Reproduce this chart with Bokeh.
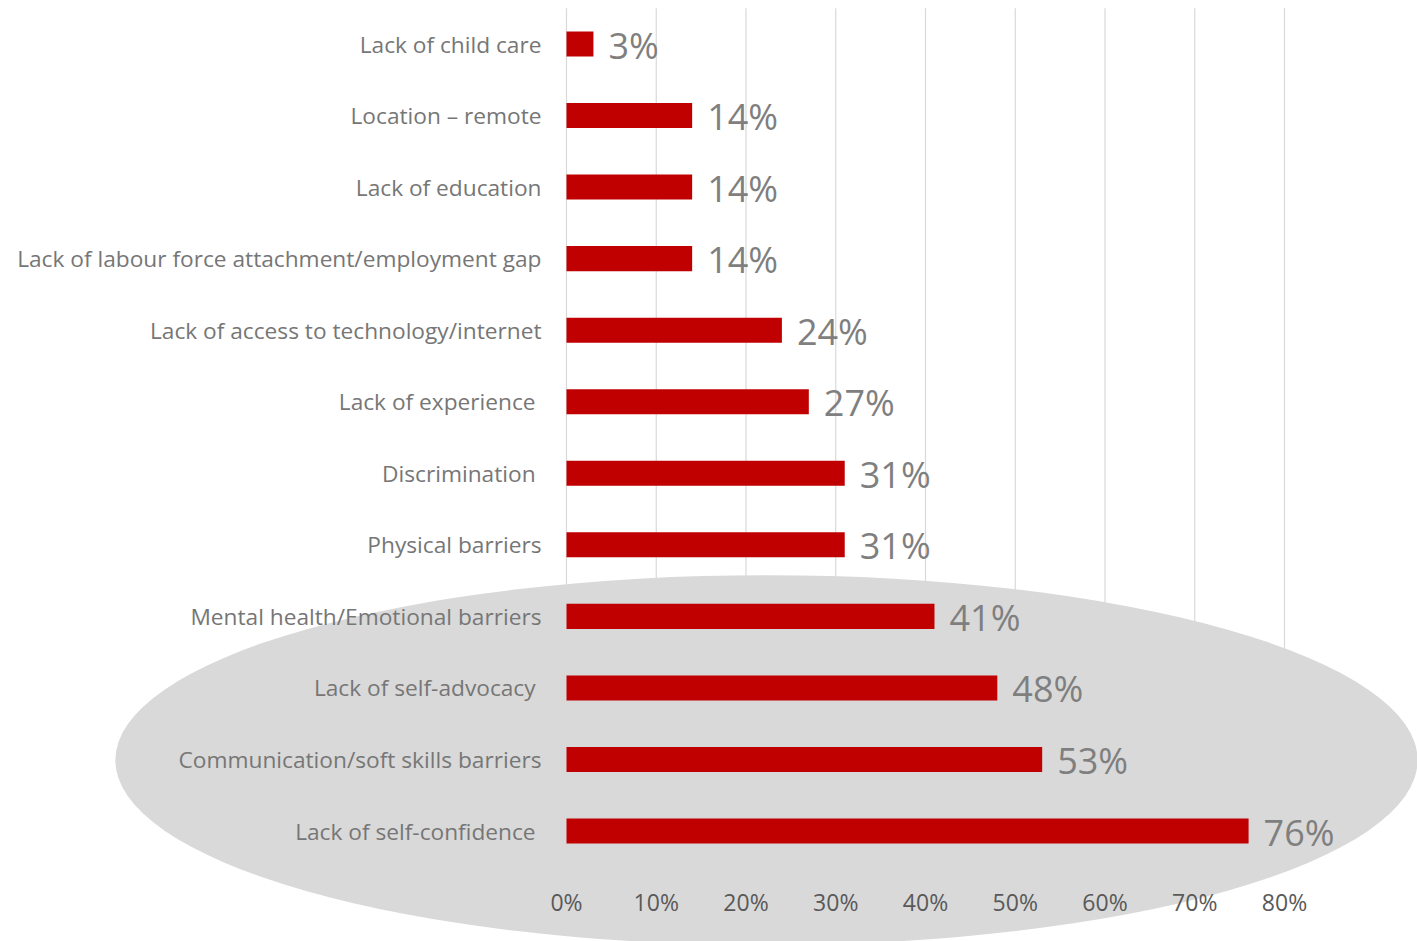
from bokeh.plotting import figure
from bokeh.models import FixedTicker, Range1d, ColumnDataSource
from bokeh.core.properties import value
from bokeh.embed import file_html
from bokeh.resources import INLINE

# ---- data (top to bottom as shown) ----
categories = [
    "Lack of child care",
    "Location \u2013 remote",
    "Lack of education",
    "Lack of labour force attachment/employment gap",
    "Lack of access to technology/internet",
    "Lack of experience\u00a0",
    "Discrimination\u00a0",
    "Physical barriers",
    "Mental health/Emotional barriers",
    "Lack of self-advocacy\u00a0",
    "Communication/soft skills barriers",
    "Lack of self-confidence\u00a0",
]
values = [3, 14, 14, 14, 24, 27, 31, 31, 41, 48, 53, 76]
x_ticks = [0, 10, 20, 30, 40, 50, 60, 70, 80]
x_tick_labels = ["0%", "10%", "20%", "30%", "40%", "50%", "60%", "70%", "80%"]

W, H = 1417, 941
FONT = "Open Sans"

n = len(categories)
pos = [n - 1 - i for i in range(n)]
labels = [f"{v}%" for v in values]

# ranges chosen so that 0% sits at x=566 px, 80% at x=1284 px
px_x = (1284 - 566) / 80.0
x_start = -566 / px_x
x_end = x_start + W / px_x
px_y = (831 - 44) / 11.0
y_end = (n - 1) + 43.5 / px_y
y_start = y_end - H / px_y

p = figure(width=W, height=H, output_backend="svg", toolbar_location=None,
           x_range=Range1d(x_start, x_end), y_range=Range1d(y_start, y_end),
           min_border=0, min_border_left=0, min_border_right=0,
           min_border_top=0, min_border_bottom=0)
p.outline_line_color = None
p.background_fill_color = "white"
p.border_fill_color = "white"
p.xgrid.visible = False
p.ygrid.visible = False

# vertical gridlines
p.segment(x0=x_ticks, y0=[-0.5] * len(x_ticks), x1=x_ticks, y1=[n - 0.5] * len(x_ticks),
          line_color="#d9d9d9", line_width=1.2)

# grey highlight ellipse
p.ellipse(x=[22.28], y=[0.99], width=[145.1], height=[5.17],
          fill_color="#d9d9d9", line_color=None)

src = ColumnDataSource(dict(y=pos, v=values, lab=labels))
p.hbar(y="y", left=0, right="v", height=0.35, source=src,
       fill_color="#c00000", line_color=None)
p.text(x="v", y="y", text="lab", source=src, x_offset=15, y_offset=1,
       text_baseline="middle", text_align="left",
       text_font=value(FONT), text_font_size="36px", text_color="#7f7f7f")

# y axis with category labels
yax = p.yaxis[0]
yax.fixed_location = 0
yax.ticker = FixedTicker(ticks=pos)
yax.major_label_overrides = {pv: c for pv, c in zip(pos, categories)}
yax.axis_line_color = None
yax.major_tick_line_color = None
yax.minor_tick_line_color = None
yax.major_tick_out = 0
yax.major_tick_in = 0
yax.major_label_standoff = 25
yax.major_label_text_font = FONT
yax.major_label_text_font_size = "22.7px"
yax.major_label_text_color = "#767676"

# x axis
xax = p.xaxis[0]
xax.fixed_location = -0.5
xax.ticker = FixedTicker(ticks=x_ticks)
xax.major_label_overrides = {t: l for t, l in zip(x_ticks, x_tick_labels)}
xax.axis_line_color = None
xax.major_tick_line_color = None
xax.minor_tick_line_color = None
xax.major_tick_out = 0
xax.major_tick_in = 0
xax.major_label_standoff = 19
xax.major_label_text_font = FONT
xax.major_label_text_font_size = "23px"
xax.major_label_text_color = "#595959"

open("out.html", "w").write(file_html(p, INLINE))
